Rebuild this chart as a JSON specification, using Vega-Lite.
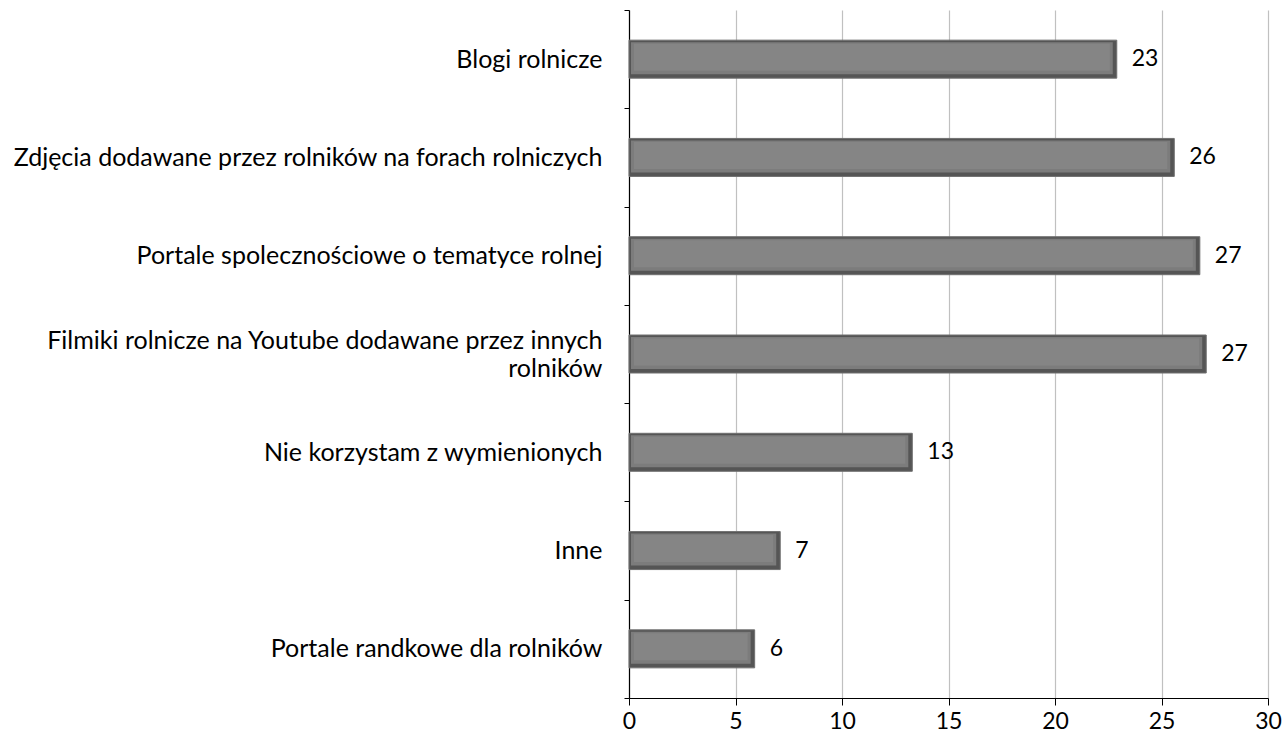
{
  "$schema": "https://vega.github.io/schema/vega-lite/v6.json",
  "width": 639,
  "height": 688,
  "autosize": "none",
  "padding": {"left": 629, "top": 10, "right": 17, "bottom": 48},
  "background": "white",
  "config": {
    "view": {"stroke": null},
    "font": "Lato",
    "axisX": {"labelFontSize": 23, "labelFont": "Lato", "labelColor": "#000000"},
    "axisQuantitative": {"labelFontSize": 23}
  },
  "data": {
    "values": [
      {"kategoria": "Blogi rolnicze", "wartosc": 22.9},
      {"kategoria": "Zdjęcia dodawane przez rolników na forach rolniczych", "wartosc": 25.6},
      {"kategoria": "Portale spolecznościowe o tematyce rolnej", "wartosc": 26.8},
      {"kategoria": "Filmiki rolnicze na Youtube dodawane przez innych|rolników", "wartosc": 27.1},
      {"kategoria": "Nie korzystam z wymienionych", "wartosc": 13.3},
      {"kategoria": "Inne", "wartosc": 7.1},
      {"kategoria": "Portale randkowe dla rolników", "wartosc": 5.9}
    ]
  },
  "encoding": {
    "y": {
      "field": "kategoria",
      "type": "nominal",
      "sort": null,
      "scale": {"paddingInner": 0, "paddingOuter": 0},
      "axis": {
        "title": null,
        "domainColor": "#000000",
        "domainWidth": 1.2,
        "tickColor": "#000000",
        "tickSize": 5,
        "tickBand": "extent",
        "labelFontSize": 25,
        "labelFont": "Lato",
        "labelColor": "#000000",
        "labelPadding": 22,
        "labelLimit": 700,
        "labelLineHeight": 28,
        "labelOffset": {"condition": {"test": "indexof(datum.label, '|') >= 0", "value": -14}, "value": 0},
        "labelExpr": "split(datum.label, '|')"
      }
    },
    "x": {
      "field": "wartosc",
      "type": "quantitative",
      "scale": {"domain": [0, 30]},
      "axis": {
        "title": null,
        "values": [0, 5, 10, 15, 20, 25, 30],
        "grid": true,
        "gridColor": "#c0c0c0",
        "gridWidth": 1.2,
        "domainColor": "#000000",
        "domainWidth": 1.2,
        "tickColor": "#000000",
        "tickSize": 7,
        "labelFontSize": 23,
        "labelFont": "Lato",
        "labelColor": "#000000",
        "labelPadding": 5,
        "labelFlush": false
      }
    }
  },
  "layer": [
    {
      "mark": {"type": "bar", "size": 38, "color": "#555555", "stroke": "#707070", "strokeWidth": 1},
      "encoding": {
        "x2": {"datum": 0}
      }
    },
    {
      "mark": {"type": "bar", "size": 32, "color": "#7c7c7c", "yOffset": -1, "xOffset": -4, "x2Offset": 2},
      "encoding": {
        "x2": {"datum": 0}
      }
    },
    {
      "mark": {"type": "bar", "size": 27, "color": "#858585", "yOffset": -2, "xOffset": -7, "x2Offset": 5},
      "encoding": {
        "x2": {"datum": 0}
      }
    },
    {
      "mark": {"type": "text", "align": "left", "baseline": "middle", "dx": 15, "fontSize": 23, "font": "Lato", "color": "#000000"},
      "encoding": {
        "text": {"field": "wartosc", "type": "quantitative", "format": ".0f"}
      }
    }
  ]
}
